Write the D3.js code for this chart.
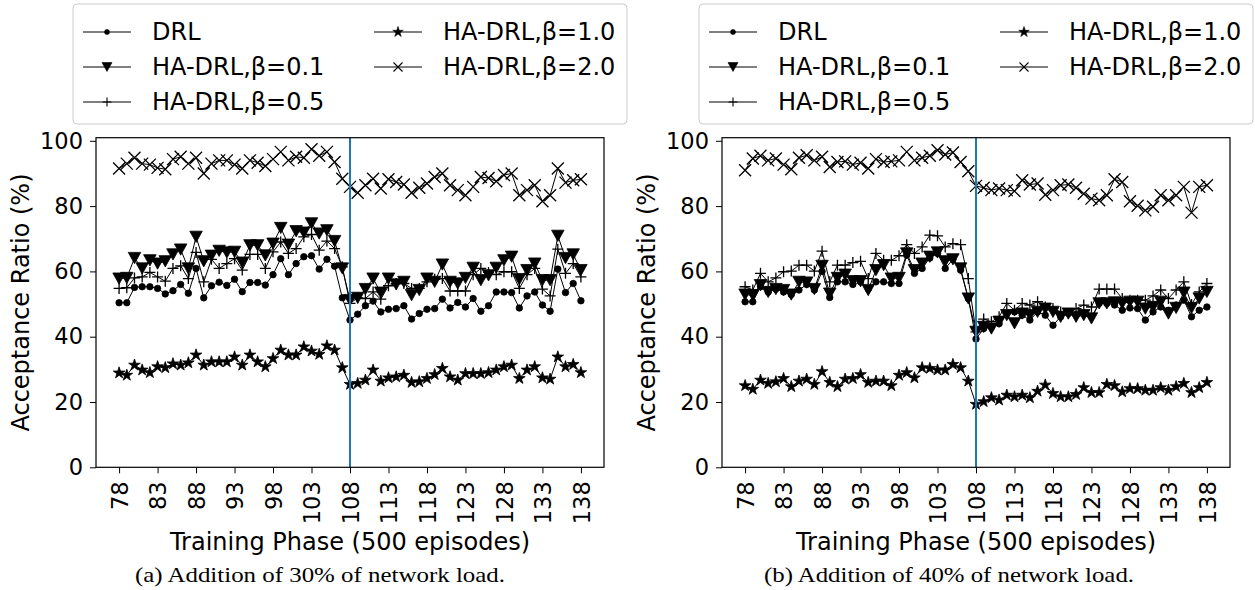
<!DOCTYPE html>
<html><head><meta charset="utf-8">
<script src="https://cdn.jsdelivr.net/npm/d3@7"></script>
<style>
html,body{margin:0;padding:0;background:#fff;}
svg text{font-family:"DejaVu Sans",sans-serif;fill:#000;}
</style></head>
<body><svg id="chart" width="1255" height="590"></svg>
<script>
const phases = [78,79,80,81,82,83,84,85,86,87,88,89,90,91,92,93,94,95,96,97,98,99,100,101,102,103,104,105,106,107,108,109,110,111,112,113,114,115,116,117,118,119,120,121,122,123,124,125,126,127,128,129,130,131,132,133,134,135,136,137,138];
const xTicks = [78,83,88,93,98,103,108,113,118,123,128,133,138];
const yTicks = [0,20,40,60,80,100];
const changePhase = 108;
const seriesNames = ["DRL","HA-DRL,β=0.1","HA-DRL,β=0.5","HA-DRL,β=1.0","HA-DRL,β=2.0"];
const captions = ["(a) Addition of 30% of network load.","(b) Addition of 40% of network load."];

// Panel (a): 30% added load
const drlA  = [50.4,50.4,55.1,55.3,55.3,54.8,53.1,54.1,56.0,53.3,60.9,51.9,55.6,56.7,55.7,57.6,53.8,56.6,56.6,55.8,59.0,63.9,59.0,62.4,64.5,64.8,60.7,63.7,61.6,51.9,45.1,46.9,49.5,50.9,47.6,48.4,48.6,49.5,45.4,47.1,48.4,48.6,51.5,48.8,50.5,49.1,51.7,47.8,49.5,53.7,53.7,53.5,48.8,52.5,53.7,49.7,47.8,60.7,53.5,56.3,51.0];
const ha01A = [57.8,58.0,64.1,60.9,63.4,62.4,63.1,65.2,66.7,60.9,70.6,63.1,64.8,66.3,65.8,66.0,62.7,68.0,68.0,64.9,68.5,73.3,68.2,72.3,71.9,74.7,71.6,72.6,69.3,60.9,51.2,51.9,54.6,57.8,53.5,57.8,56.0,56.8,52.7,54.3,57.8,56.8,62.1,56.8,56.3,58.0,61.1,57.3,58.8,61.1,63.4,64.5,57.6,60.4,62.4,57.3,57.3,70.9,64.1,65.2,60.4];
const ha05A = [54.8,55.0,58.0,58.3,59.7,58.3,57.0,60.9,61.7,57.8,65.8,56.8,63.7,60.9,62.4,63.9,60.4,65.2,65.2,60.9,66.0,69.0,65.5,67.0,70.6,71.3,66.5,69.3,67.0,61.4,50.2,51.9,51.7,53.7,51.5,55.6,56.3,56.3,54.8,54.8,56.8,57.6,57.8,54.0,54.0,54.0,59.0,60.9,59.7,59.0,59.9,59.9,54.8,59.0,60.9,54.6,52.5,66.8,59.4,62.4,58.3];
const ha10A = [28.9,28.2,31.3,29.8,29.0,30.8,30.5,31.7,31.3,32.0,34.4,31.3,32.3,32.3,32.3,33.8,31.3,34.4,32.3,30.8,33.3,35.9,34.4,34.4,36.9,35.6,34.6,37.2,35.9,30.5,25.4,25.7,26.7,29.8,26.4,27.4,27.7,28.2,26.0,26.2,27.2,28.4,30.3,27.7,26.7,28.7,28.7,28.7,29.0,29.8,30.8,31.3,27.2,29.8,30.8,27.4,27.0,33.8,30.8,31.5,29.0];
const ha20A = [91.5,93.0,94.8,93.0,92.7,91.7,91.3,94.4,95.1,93.0,94.8,90.0,93.0,94.0,94.0,92.7,91.5,94.0,93.3,92.3,94.4,96.6,94.0,95.1,94.8,97.4,95.4,96.6,93.5,88.4,85.9,84.1,86.4,88.4,85.4,88.2,87.4,86.6,84.1,85.6,86.9,88.9,90.0,86.4,84.9,83.3,85.9,88.9,88.6,87.6,89.5,90.0,83.3,84.9,86.4,81.5,83.3,91.5,87.2,87.9,88.2];

// Panel (b): 40% added load
const drlB  = [50.7,50.7,55.3,53.7,54.6,53.7,52.9,54.3,56.0,54.3,60.0,52.0,56.8,56.8,56.0,56.8,54.6,56.8,56.8,56.3,56.3,65.0,59.4,60.9,64.1,65.5,60.9,63.7,60.4,51.7,39.3,42.5,43.0,44.0,47.1,47.6,46.6,45.1,47.6,46.6,43.5,46.1,47.1,46.6,47.1,46.1,50.2,50.2,49.7,48.1,48.8,48.6,45.1,47.6,49.1,48.1,49.7,51.2,46.1,48.1,49.1];
const ha01B = [52.9,52.7,55.8,53.7,54.6,54.3,52.9,56.8,56.6,54.6,61.7,53.2,58.0,59.0,57.0,57.0,54.3,60.4,61.9,57.8,58.0,65.5,60.4,62.4,64.5,65.8,63.1,63.7,60.9,51.7,41.5,43.0,42.5,44.6,46.6,44.1,47.1,46.6,47.6,48.6,47.6,46.1,47.1,46.1,46.6,45.6,50.2,50.2,50.5,50.2,50.7,50.7,48.6,49.1,50.7,47.1,48.8,53.5,48.8,51.7,53.7];
const ha05B = [55.3,54.3,59.4,56.8,58.0,59.9,60.1,61.9,61.9,60.1,66.2,56.8,61.9,61.9,62.7,63.1,57.8,65.5,63.4,63.4,64.8,68.2,65.5,67.5,71.1,70.9,67.5,68.5,68.2,57.8,41.5,45.4,44.6,46.1,50.2,48.1,50.2,49.7,50.7,49.1,48.6,47.6,47.1,48.6,49.7,49.1,54.6,54.6,54.6,51.7,51.2,51.2,51.2,52.5,54.3,51.7,54.3,56.8,49.9,53.7,56.3];
const ha10B = [25.0,23.9,26.7,25.7,26.2,27.2,24.7,26.4,27.0,25.4,29.3,26.0,24.7,27.0,27.2,28.4,26.0,26.4,26.4,25.0,28.2,29.0,27.4,30.5,30.3,29.8,29.8,31.5,30.5,26.4,19.3,20.1,21.3,20.6,22.1,21.6,22.1,21.3,23.3,25.2,22.6,21.6,21.6,22.3,24.4,22.9,22.9,25.4,25.0,23.1,24.1,24.1,23.6,23.6,24.4,23.6,24.7,25.7,22.9,24.4,26.0];
const ha20B = [91.0,94.6,95.4,94.0,94.6,92.7,91.3,94.8,95.6,94.0,95.1,92.0,93.5,93.7,92.7,93.3,91.5,94.4,93.5,93.7,94.0,96.6,94.0,94.8,95.4,97.1,95.8,96.4,93.5,90.7,86.2,85.6,84.9,85.4,84.9,84.6,87.9,86.6,86.9,83.5,84.9,86.4,86.6,85.6,83.8,82.3,81.8,83.3,88.2,87.4,81.5,80.1,78.7,79.8,83.3,81.8,83.3,85.9,78.0,85.9,86.4];

const panelsData = [[drlA,ha01A,ha05A,ha10A,ha20A],[drlB,ha01B,ha05B,ha10B,ha20B]];

function markerPath(type, s){
  const h = s/2;
  switch(type){
    case "circle": return d3.symbol(d3.symbolCircle, Math.PI*h*h)();
    case "tri": return `M${-h},${-h*0.9}L${h},${-h*0.9}L0,${h*0.9}Z`;
    case "plus": return `M${-h},0L${h},0M0,${-h}L0,${h}`;
    case "star": return d3.symbol(d3.symbolStar, s*s*0.42)();
    case "x": return `M${-h},${-h}L${h},${h}M${-h},${h}L${h},${-h}`;
  }
}
const markerTypes = ["circle","tri","plus","star","x"];
const markerSizes = [6.5,12.5,11,10,12];
const legendSizes = [5,10,9,9,9];
const filled = [true,true,false,true,false];

const svg = d3.select("#chart");
const panelOffsets = [0, 626];

panelsData.forEach((series, p) => {
  const off = panelOffsets[p];
  const left = 96 + off, right = 604 + off, top = 137.7, bottom = 467.3;
  const x = d3.scaleLinear().domain([75,141]).range([left,right]);
  const y = d3.scaleLinear().domain([0,100.95]).range([bottom,top]);
  const g = svg.append("g");

  series.forEach((vals, si) => {
    const pts = phases.map((ph,i)=>[ph, vals[i]]);
    g.append("path").datum(pts)
      .attr("fill","none").attr("stroke","#000").attr("stroke-width",1)
      .attr("d", d3.line().x(d=>x(d[0])).y(d=>y(d[1])));
    g.selectAll(null).data(pts).enter().append("path")
      .attr("transform", d=>`translate(${x(d[0])},${y(d[1])})`)
      .attr("d", markerPath(markerTypes[si], markerSizes[si]))
      .attr("fill", filled[si] ? "#000" : "none")
      .attr("stroke","#000").attr("stroke-width", filled[si]?0.8:1.3);
  });

  g.append("line").attr("x1",x(changePhase)).attr("x2",x(changePhase))
    .attr("y1",y(0)).attr("y2",y(100.95))
    .attr("stroke","#1f77b4").attr("stroke-width",2);

  const xAxis = g.append("g").attr("transform",`translate(0,${bottom})`)
    .call(d3.axisBottom(x).tickValues(xTicks).tickSize(6).tickPadding(4).tickFormat(d3.format("d")));
  xAxis.select(".domain").remove();
  xAxis.selectAll("line").attr("stroke","#000").attr("stroke-width",1);
  xAxis.selectAll("text")
    .attr("font-size",22.5).attr("font-family","DejaVu Sans")
    .attr("transform","rotate(-90)")
    .attr("text-anchor","end").attr("dy","0.36em")
    .attr("x",-14).attr("y",0);

  const yAxis = g.append("g").attr("transform",`translate(${left},0)`)
    .call(d3.axisLeft(y).tickValues(yTicks).tickSize(6).tickPadding(7));
  yAxis.select(".domain").remove();
  yAxis.selectAll("line").attr("stroke","#000").attr("stroke-width",1);
  yAxis.selectAll("text").attr("font-size",22.5).attr("font-family","DejaVu Sans");

  g.append("rect").attr("x",left).attr("y",top).attr("width",right-left).attr("height",bottom-top)
    .attr("fill","none").attr("stroke","#000").attr("stroke-width",1.2);

  g.append("text").attr("x",(left+right)/2).attr("y",550).attr("text-anchor","middle")
    .attr("font-size",24).text("Training Phase (500 episodes)");
  g.append("text").attr("transform",`translate(${21+off},${(top+bottom)/2}) rotate(-90)`)
    .attr("text-anchor","middle").attr("dy","0.35em").attr("font-size",24).text("Acceptance Ratio (%)");

  g.append("text").attr("x",320+off+(p?3:0)).attr("y",582).attr("text-anchor","middle")
    .style("font-family","'Liberation Serif',serif").attr("font-size",21)
    .attr("textLength",370).attr("lengthAdjust","spacingAndGlyphs").text(captions[p]);

  const lg = g.append("g");
  lg.append("rect").attr("x",73+off).attr("y",4).attr("width",554).attr("height",120).attr("rx",4)
    .attr("fill","#fff").attr("fill-opacity",0.8).attr("stroke","#ccc").attr("stroke-width",1);
  const pos = [[0,0],[0,1],[0,2],[1,0],[1,1]];
  seriesNames.forEach((name, si) => {
    const [c, r] = pos[si];
    const lx = (c ? 374 : 83) + off, ly = 32 + r*35;
    lg.append("line").attr("x1",lx).attr("x2",lx+48).attr("y1",ly).attr("y2",ly)
      .attr("stroke","#000").attr("stroke-width",1);
    lg.append("path").attr("transform",`translate(${lx+24},${ly})`)
      .attr("d", markerPath(markerTypes[si], legendSizes[si]))
      .attr("fill", filled[si] ? "#000" : "none")
      .attr("stroke","#000").attr("stroke-width", filled[si]?0.6:1.1);
    lg.append("text").attr("x",lx+69).attr("y",ly).attr("dy","0.35em")
      .attr("font-size",24).text(name);
  });
});
</script></body></html>
